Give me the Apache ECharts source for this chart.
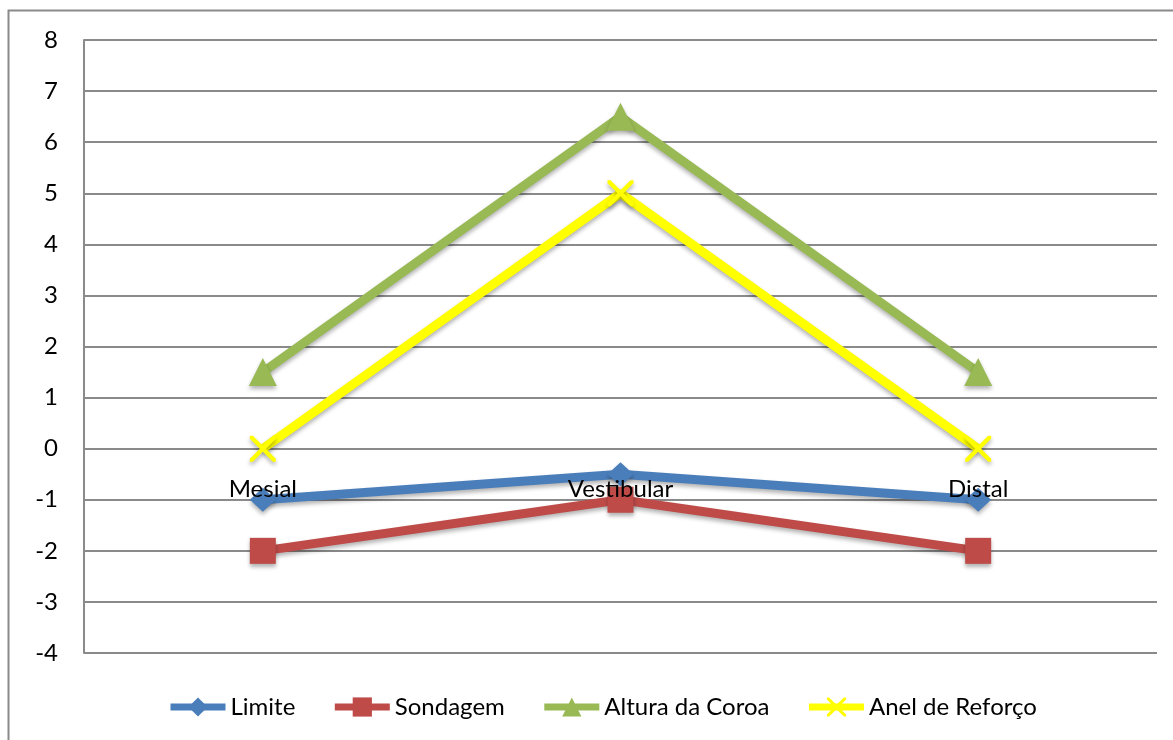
<!DOCTYPE html>
<html>
<head>
<meta charset="utf-8">
<script src="https://cdn.jsdelivr.net/npm/echarts@6/dist/echarts.min.js"></script>
<style>
  html, body { margin: 0; padding: 0; background: #fff; }
  #chart { width: 1173px; height: 740px; }
</style>
</head>
<body>
<div id="chart"></div>
<script>
// Categories and series values
const categories = ['Mesial', 'Vestibular', 'Distal'];
const limite = [-1, -0.5, -1];
const sondagem = [-2, -1, -2];
const alturaCoroa = [1.5, 6.5, 1.5];
const anelReforco = [0, 5, 0];

const FONT = 'Lato, "Open Sans", sans-serif';
const crossPath = 'path://M0,0 L3,0 L13,10 L23,0 L26,0 L26,3 L16,13 L26,23 L26,26 L23,26 L13,16 L3,26 L0,26 L0,23 L10,13 L0,3 Z';

const shadow = { shadowColor: 'rgba(0,0,0,0.3)', shadowBlur: 4, shadowOffsetY: 3 };

function makeSeries(name, data, color, symbol, size) {
  return {
    name: name,
    type: 'line',
    data: data,
    symbol: symbol,
    symbolSize: size,
    lineStyle: Object.assign({ color: color, width: 9 }, shadow),
    itemStyle: Object.assign({ color: color }, shadow),
    emphasis: { disabled: true },
    animation: false
  };
}

const chart = echarts.init(document.getElementById('chart'));
chart.setOption({
  backgroundColor: '#fff',
  graphic: [{
    type: 'rect',
    shape: { x: 8.5, y: 10.5, width: 1300, height: 900 },
    style: { fill: 'none', stroke: '#8a8a8a', lineWidth: 2 },
    silent: true, z: -1
  }],
  grid: { left: 84, right: 16, top: 40, bottom: 87 },
  legend: {
    left: 162,
    top: 690,
    itemWidth: 55,
    itemHeight: 24,
    itemGap: 36,
    lineStyle: { width: 7 },
    textStyle: { fontFamily: FONT, fontSize: 24, color: '#000' },
    data: ['Limite', 'Sondagem', 'Altura da Coroa', 'Anel de Reforço']
  },
  xAxis: {
    type: 'category',
    data: categories,
    boundaryGap: true,
    z: 10,
    offset: -204,
    axisLine: { show: false },
    axisTick: { show: false },
    axisLabel: { margin: 28, fontFamily: FONT, fontSize: 24, color: '#000' },
    splitLine: { show: false }
  },
  yAxis: {
    type: 'value',
    min: -4,
    max: 8,
    interval: 1,
    axisLine: { show: true, lineStyle: { color: '#8a8a8a', width: 2 } },
    axisTick: { show: false },
    axisLabel: { margin: 26, fontFamily: FONT, fontSize: 24, color: '#000' },
    splitLine: { show: true, lineStyle: { color: '#8a8a8a', width: 2 } }
  },
  series: [
    makeSeries('Limite', limite, '#4a7ebb', 'diamond', [26, 24]),
    makeSeries('Sondagem', sondagem, '#be4b48', 'rect', 26),
    makeSeries('Altura da Coroa', alturaCoroa, '#98b954', 'triangle', [28, 28]),
    makeSeries('Anel de Reforço', anelReforco, '#ffff00', crossPath, 26)
  ]
});
</script>
</body>
</html>
